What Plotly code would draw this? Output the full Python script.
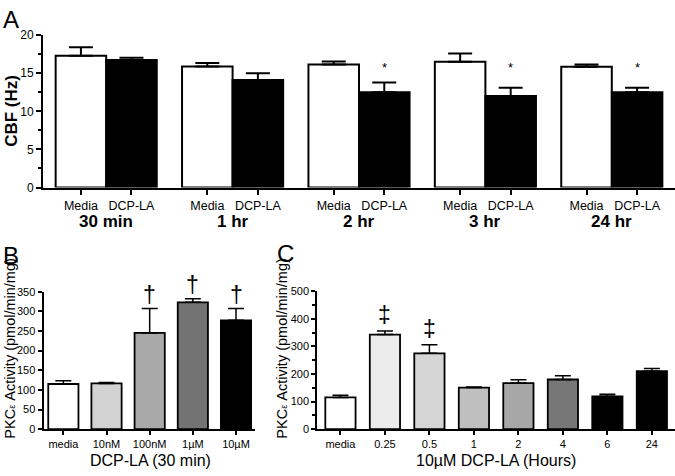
import plotly.graph_objects as go

# ---------------- data ----------------
# Panel A: CBF (Hz)
a_groups = ["30 min", "1 hr", "2 hr", "3 hr", "24 hr"]
a_series = ["Media", "DCP-LA"]
a_media = [17.3, 15.9, 16.15, 16.5, 15.85]
a_media_err = [1.1, 0.45, 0.4, 1.1, 0.3]
a_dcp = [16.75, 14.1, 12.5, 12.0, 12.5]
a_dcp_err = [0.3, 0.9, 1.3, 1.1, 0.6]
a_sig = ["", "", "*", "*", "*"]
a_sig_y = 15.7

# Panel B: PKCe activity, DCP-LA 30 min
b_cats = ["media", "10nM", "100nM", "1µM", "10µM"]
b_vals = [115, 116.5, 245, 323, 277]
b_err = [8, 2.5, 62, 9, 30]
b_sig = ["", "", "†", "†", "†"]
b_colors = ["#ffffff", "#d2d2d2", "#a9a9a9", "#737373", "#000000"]

# Panel C: PKCe activity, 10 µM DCP-LA over time
c_cats = ["media", "0.25", "0.5", "1", "2", "4", "6", "24"]
c_vals = [115, 343, 275, 151, 167, 180, 119, 210]
c_err = [8, 13, 31, 2, 12, 14, 8, 10]
c_sig = ["", "‡", "‡", "", "", "", "", ""]
c_colors = ["#ffffff", "#ececec", "#d5d5d5", "#bfbfbf", "#a7a7a7", "#777777", "#000000", "#000000"]

FONT = "Liberation Sans, Arial, sans-serif"
W, H = 675, 476


def px_x(p):
    return p / W


def px_y(p):
    return 1 - p / H


fig = go.Figure()

# ---------------- Panel A ----------------
idx = list(range(len(a_groups)))
x_media = [i - 0.2 for i in idx]
x_dcp = [i + 0.2 for i in idx]
fig.add_trace(go.Bar(
    x=x_media, y=a_media, width=0.4, name=a_series[0],
    marker=dict(color="white", line=dict(color="black", width=2)),
    error_y=dict(type="data", symmetric=False, array=a_media_err,
                 arrayminus=[0] * len(a_media), color="black", thickness=2, width=12),
    xaxis="x", yaxis="y", showlegend=False))
fig.add_trace(go.Bar(
    x=x_dcp, y=a_dcp, width=0.4, name=a_series[1],
    marker=dict(color="black", line=dict(color="black", width=2)),
    error_y=dict(type="data", symmetric=False, array=a_dcp_err,
                 arrayminus=[0] * len(a_dcp), color="black", thickness=2, width=12),
    xaxis="x", yaxis="y", showlegend=False))

# ---------------- Panel B ----------------
fig.add_trace(go.Bar(
    x=b_cats, y=b_vals, width=0.7,
    marker=dict(color=b_colors, line=dict(color="black", width=1.8)),
    error_y=dict(type="data", symmetric=False, array=b_err,
                 arrayminus=[0] * len(b_vals), color="black", thickness=1.5, width=8),
    xaxis="x2", yaxis="y2", showlegend=False))

# ---------------- Panel C ----------------
fig.add_trace(go.Bar(
    x=c_cats, y=c_vals, width=0.68,
    marker=dict(color=c_colors, line=dict(color="black", width=1.8)),
    error_y=dict(type="data", symmetric=False, array=c_err,
                 arrayminus=[0] * len(c_vals), color="black", thickness=1.5, width=8),
    xaxis="x3", yaxis="y3", showlegend=False))

axis_common = dict(showline=True, linecolor="black", linewidth=2, ticks="outside",
                   tickcolor="black", tickwidth=2, showgrid=False,
                   zeroline=False, fixedrange=True)

tickvals_a = []
ticktext_a = []
for i in idx:
    tickvals_a += [x_media[i], x_dcp[i]]
    ticktext_a += a_series

fig.update_layout(
    width=W, height=H, margin=dict(l=0, r=0, t=0, b=0),
    paper_bgcolor="white", plot_bgcolor="white",
    font=dict(family=FONT, color="black"),
    xaxis=dict(domain=[px_x(43), 1.0], range=[-0.5, 4.5], tickvals=tickvals_a, ticklen=5,
               ticktext=ticktext_a, tickfont=dict(size=12.5, color="black"), anchor="y", **axis_common),
    yaxis=dict(domain=[px_y(186), px_y(29)], range=[0, 20], dtick=5, ticklen=5,
               tickfont=dict(size=12, color="black"), anchor="x",
               minor=dict(dtick=2.5, ticks="outside", ticklen=3, tickwidth=1.5, tickcolor="black"),
               **axis_common),
    xaxis2=dict(domain=[px_x(43.5), px_x(255)], range=[-0.46, 4.44], type="category", ticklen=4,
                tickfont=dict(size=11, color="black"), anchor="y2", **axis_common),
    yaxis2=dict(domain=[px_y(435), px_y(293.3)], range=[0, 350], dtick=50, ticklen=4,
                tickfont=dict(size=11, color="black"), anchor="x2", **axis_common),
    xaxis3=dict(domain=[px_x(317.3), 1.0], range=[-0.52, 7.52], type="category", ticklen=4,
                tickfont=dict(size=11, color="black"), anchor="y3", **axis_common),
    yaxis3=dict(domain=[px_y(435), px_y(292.8)], range=[0, 500], dtick=100, ticklen=4,
                tickfont=dict(size=11, color="black"), anchor="x3",
                minor=dict(dtick=50, ticks="outside", ticklen=3, tickwidth=1.5, tickcolor="black"),
                **axis_common),
)

ann = []
# group labels A
for i, g in enumerate(a_groups):
    ann.append(dict(x=i, y=px_y(220.5), xref="x", yref="paper", text="<b>%s</b>" % g,
                    showarrow=False, font=dict(size=17), xanchor="center", yanchor="middle"))
# significance marks A
for i, s in enumerate(a_sig):
    if s:
        ann.append(dict(x=x_dcp[i], y=a_sig_y, xref="x", yref="y", text=s, showarrow=False,
                        font=dict(size=13), xanchor="center", yanchor="middle"))
# significance marks B
for i, (v, e, s) in enumerate(zip(b_vals, b_err, b_sig)):
    if s:
        ann.append(dict(x=i, y=v + e, xref="x2", yref="y2", text=s, showarrow=False,
                        font=dict(size=23), xanchor="center", yanchor="middle", yshift=14))
# significance marks C
for i, (v, e, s) in enumerate(zip(c_vals, c_err, c_sig)):
    if s:
        ann.append(dict(x=i, y=v + e, xref="x3", yref="y3", text=s, showarrow=False,
                        font=dict(size=23), xanchor="center", yanchor="middle", yshift=16))


def title(x, y, text, size, angle=0):
    ann.append(dict(x=px_x(x), y=px_y(y), xref="paper", yref="paper", text=text,
                    textangle=angle, showarrow=False, font=dict(size=size),
                    xanchor="center", yanchor="middle"))


ytitle_pkc = "PKC<span style='font-size:9px'>ε</span> Activity (pmol/min/mg)"
title(12, 107, "<b>CBF (Hz)</b>", 17, -90)
title(10, 352, ytitle_pkc, 14.5, -90)
title(282, 352, ytitle_pkc, 14.5, -90)
title(150, 467, "DCP-LA (30 min)", 16)
title(496, 467, "10µM DCP-LA (Hours)", 16)
# panel letters
title(11, 13, "A", 24)
title(11, 256, "B", 24)
title(285, 254, "C", 24)

fig.update_layout(annotations=ann)
fig.write_html("out.html", config={"displayModeBar": False},
               post_script="document.body.style.margin='0';document.body.style.overflow='hidden';")
